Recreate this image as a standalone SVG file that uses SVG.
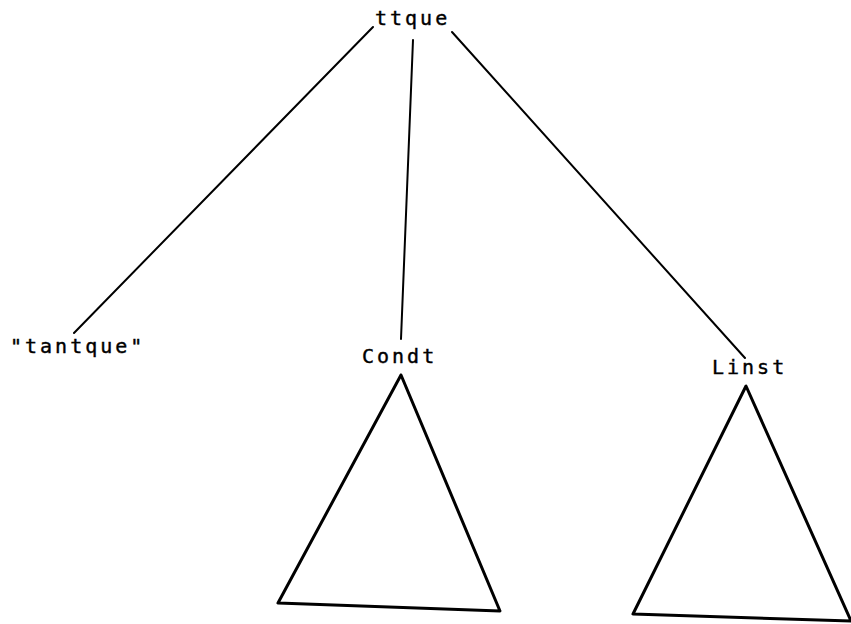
<svg xmlns="http://www.w3.org/2000/svg" width="851" height="624" viewBox="0 0 851 624">
<style>
.lbl{font-family:"DejaVu Sans Mono","Liberation Mono",monospace;font-size:20px;letter-spacing:3px;fill:#000;stroke:#000;stroke-width:0.4}
.edge{stroke:#000;stroke-width:2;fill:none;stroke-linecap:round}
.tri{stroke:#000;stroke-width:3;fill:none;stroke-linejoin:round}
</style>
<rect width="851" height="624" fill="#fff"/>
<g id="connectors">
<line class="edge" x1="373" y1="27" x2="74" y2="333"/>
<line class="edge" x1="413" y1="40" x2="401" y2="339"/>
<line class="edge" x1="452" y1="32" x2="745" y2="358"/>
</g>
<g id="ttque"><text class="lbl" x="375" y="25">ttque</text></g>
<g id="tantque"><text class="lbl" x="10" y="353">"tantque"</text></g>
<g id="condt">
<text class="lbl" x="362" y="363">Condt</text>
<polygon class="tri" points="401,375 278,603 500,611"/>
</g>
<g id="linst">
<text class="lbl" x="712" y="374">Linst</text>
<polygon class="tri" points="746,386 633,614 851,621"/>
</g>
</svg>
